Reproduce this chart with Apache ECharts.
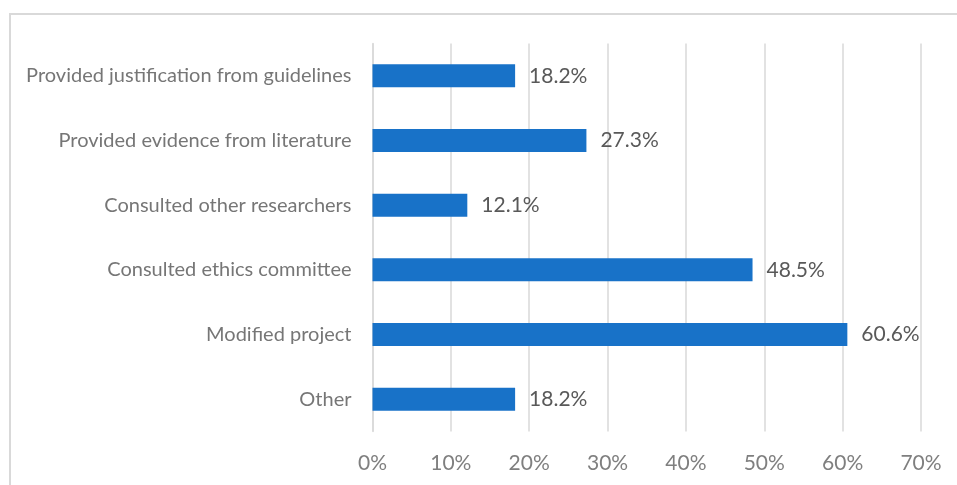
<!DOCTYPE html>
<html>
<head>
<meta charset="utf-8">
<script src="https://cdn.jsdelivr.net/npm/echarts@6/dist/echarts.min.js"></script>
<style>
html,body{margin:0;padding:0;background:#fff;}
#chart{width:957px;height:485px;}
</style>
</head>
<body>
<div id="chart"></div>
<script>
var categories = [
  "Provided justification from guidelines",
  "Provided evidence from literature",
  "Consulted other researchers",
  "Consulted ethics committee",
  "Modified project",
  "Other"
];
var values = [18.2, 27.3, 12.1, 48.5, 60.6, 18.2];
var tickMin = 0, tickMax = 70, tickStep = 10;

var FONT = 'Lato';
var chart = echarts.init(document.getElementById('chart'));
chart.setOption({
  animation: false,
  backgroundColor: '#ffffff',
  graphic: [{
    type: 'rect',
    shape: {x: 10, y: 14, width: 1200, height: 1000},
    style: {fill: 'none', stroke: '#d9d9d9', lineWidth: 2},
    silent: true
  }],
  grid: {left: 372.5, right: 36, top: 43.5, bottom: 53.5, containLabel: false},
  xAxis: {
    type: 'value',
    min: tickMin, max: tickMax, interval: tickStep,
    axisLine: {show: false},
    axisTick: {show: false},
    splitLine: {show: true, lineStyle: {color: '#d9d9d9', width: 1.5}},
    axisLabel: {
      formatter: function (v) { return v + '%'; },
      color: '#7f7f7f', fontFamily: FONT, fontSize: 21, margin: 21
    }
  },
  yAxis: {
    type: 'category',
    data: categories,
    inverse: true,
    axisLine: {show: true, lineStyle: {color: '#d9d9d9', width: 1.5}},
    axisTick: {show: false},
    axisLabel: {color: '#767676', fontFamily: FONT, fontSize: 20, margin: 21}
  },
  series: [{
    type: 'bar',
    data: values,
    barWidth: 23,
    itemStyle: {color: '#1872c8'},
    label: {
      show: true,
      position: 'right',
      distance: 14,
      formatter: function (p) { return p.value.toFixed(1) + '%'; },
      color: '#595959', fontFamily: FONT, fontSize: 21
    }
  }]
});
</script>
</body>
</html>
